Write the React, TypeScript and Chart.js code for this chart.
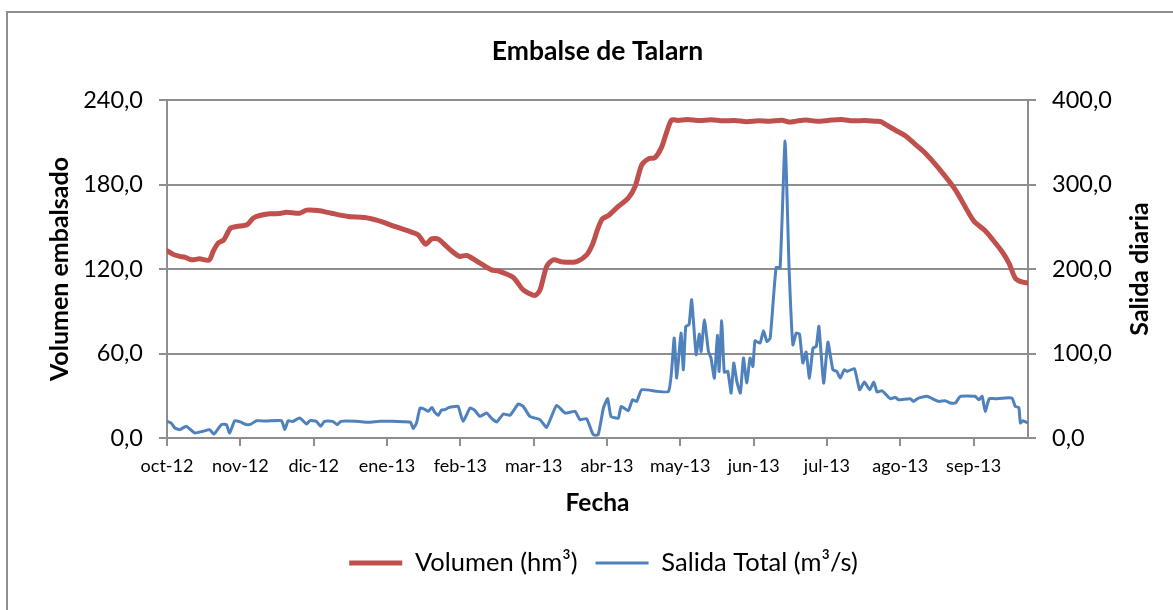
import React, { useEffect, useRef } from "react";
import { Chart, registerables } from "chart.js";

Chart.register(...registerables);

// ---- Texts ----
const chartTitle = "Embalse de Talarn";
const xAxisTitle = "Fecha";
const leftAxisTitle = "Volumen embalsado";
const rightAxisTitle = "Salida diaria";
const volumeLabel = "Volumen (hm³)";
const outflowLabel = "Salida Total (m³/s)";

// ---- X axis (days since 1 Oct 2012), tick every 31 days ----
const monthTickDays = [0, 31, 62, 93, 124, 155, 186, 217, 248, 279, 310, 341];
const monthTickLabels = ["oct-12", "nov-12", "dic-12", "ene-13", "feb-13", "mar-13", "abr-13", "may-13", "jun-13", "jul-13", "ago-13", "sep-13"];

// ---- Volumen (hm³), left axis ----
const volumeDays = [0, 2.5, 5.4, 7.5, 10.3, 13.8, 17.8, 19.5, 21.6, 24, 26.8, 29.4, 33.8, 36.4, 39.2, 43.4, 47.7, 50.5, 56.1, 59, 63.9, 69.5, 76.6, 83.6, 90.7, 96.3, 103.4, 106.2, 109.3, 111.9, 114.7, 118.2, 121.7, 123.8, 126.7, 132.3, 137.2, 140, 146.4, 150.6, 155.6, 157.7, 160.5, 163.3, 167.5, 173.2, 177.4, 180, 182, 184, 186.6, 190.8, 195, 197.9, 200.7, 203.5, 206.3, 209.2, 211.3, 213.4, 216, 220, 225, 230, 235, 240, 245, 250, 255, 260, 263, 266, 270, 275, 280, 285, 290, 295, 300, 302, 303.6, 308, 312.1, 316, 320.6, 326.2, 333.3, 341, 345.9, 349, 353, 356, 358.6, 361, 364];
const volumeValues = [133, 130.5, 129, 128.4, 126.5, 127.2, 126.3, 132.4, 138.4, 140.7, 149, 150.2, 151.4, 156.1, 158, 159.2, 159.4, 160.3, 159.6, 161.8, 161.5, 159.6, 157.3, 156.6, 153.7, 150.2, 146.2, 144.3, 137.6, 141.4, 141.2, 136, 131, 128.9, 129.6, 124.2, 119.4, 118.7, 114, 105.2, 101.2, 105.2, 121.8, 126.5, 124.9, 125.3, 130, 138, 148, 155.5, 158, 164.4, 170.3, 178.6, 193.9, 198.2, 199.1, 206.9, 217.6, 225.9, 225.5, 226.2, 225.4, 226, 225.2, 225.5, 224.6, 225.2, 224.9, 225.6, 224.3, 225, 225.8, 224.9, 225.6, 226.1, 225.2, 225.5, 224.9, 224.5, 222.8, 218.5, 214.7, 209, 202.2, 191.6, 176.2, 154.2, 147.1, 141, 132.4, 124, 113.5, 111, 110];

// ---- Salida Total (m³/s), right axis ----
const outflowDays = [0, 1.8, 3.3, 5.4, 8.2, 11.7, 15.2, 18, 19.8, 23, 25.1, 26.5, 28.6, 31, 33.6, 35.5, 37.8, 42, 48.4, 49.8, 51.2, 53, 56.1, 59, 60.4, 63, 65, 66.5, 70, 72, 73.5, 80, 85, 90, 95, 100, 103, 104.1, 105.5, 107, 109, 110.4, 112, 113.3, 114.7, 116, 117.5, 119, 121.7, 123.1, 125.2, 128.1, 130, 132.3, 135.1, 137, 139.4, 142.2, 145, 148.5, 150.6, 153.4, 157.7, 160.5, 164.7, 168.3, 172.5, 174.6, 177.4, 180.2, 182.3, 184.5, 186.3, 187.7, 190.8, 192, 195, 196.8, 198.6, 200.7, 212, 214.4, 215.5, 217.3, 218.3, 219.3, 220.7, 221.8, 223.7, 225, 225.8, 227.2, 228.9, 230, 231.4, 232.7, 233.4, 234.5, 235.6, 237.1, 238.5, 239.6, 240.9, 242.4, 243.7, 245.1, 246.5, 247.7, 248.6, 250.7, 252.2, 253.6, 255, 257.5, 259.2, 261.3, 263, 264.6, 266, 267.4, 268.8, 270.2, 271.6, 273.1, 274.5, 275.6, 277.6, 279.4, 281.5, 283.2, 284.6, 286.3, 287.5, 290.6, 292.8, 294.8, 297.1, 298.8, 300.2, 302.3, 305.8, 307.9, 309.3, 314.2, 315.6, 317.7, 321.3, 326.2, 329, 331.1, 333.3, 335.4, 341.7, 343.2, 344.6, 345.9, 347.6, 350.1, 357.2, 358.6, 360.1, 360.8, 361.8, 364];
const outflowValues = [19.7, 17.7, 11.8, 9.9, 13.8, 5.9, 7.9, 9.9, 4.7, 15.8, 15.8, 5.9, 20.5, 19, 15.8, 16.5, 20.5, 20, 20.5, 9.9, 20.5, 19.5, 23.6, 16.5, 20.5, 20, 13.8, 19.7, 19.7, 15.8, 19.7, 19.7, 18.5, 19.7, 19.7, 19.2, 18.5, 11, 18, 35.5, 34, 31.5, 36, 30, 26.8, 33, 33.5, 36, 37.4, 37.4, 19.7, 35.5, 33, 25.6, 29.6, 24, 18.9, 28.4, 26.8, 40.2, 37.4, 25.6, 21.7, 12.6, 38.6, 29.6, 31.5, 21.7, 22.9, 3.9, 3.9, 35.5, 46.5, 25.6, 23.6, 37.4, 32.3, 45.3, 43.3, 57.1, 55.2, 118.2, 70.9, 124.1, 80.8, 132, 134, 163.5, 98.5, 122.9, 102.4, 139.9, 102.4, 94.6, 70.9, 121.4, 78.8, 138.7, 78, 78.8, 53.2, 88.7, 67, 53.2, 94.6, 65, 94.6, 84.7, 115, 112.3, 126.9, 114.3, 118.2, 201.7, 201.7, 351.4, 200.9, 110.3, 124.1, 122.9, 88.7, 101.7, 70.9, 106.4, 108.4, 132, 65, 113.5, 80.8, 78.8, 70.9, 80.8, 78.8, 82, 57.1, 66.2, 57.1, 66.2, 54.4, 55.9, 46.5, 48.1, 45.3, 46.5, 43.3, 47.3, 49.3, 43.3, 44.1, 41.4, 41.4, 49.3, 49.3, 45.3, 49.3, 31.5, 46.5, 46.5, 47.3, 37.4, 36.2, 17.7, 20.5, 17.7];

// ---- Axis ranges ----
const leftAxisMax = 240;
const leftAxisStep = 60;
const rightAxisMax = 400;
const rightAxisStep = 100;

const FONT = "Lato";
const GRID_COLOR = "#8e8e8e";
const RED = "#C0504D";
const BLUE = "#4F81BD";

const fmt = (v: number) => Number(v).toFixed(1).replace(".", ",");

const layoutPlugin = {
  id: "layoutTweaks",
  afterLayout(chart: any) {
    const t = chart.titleBlock;
    if (t) {
      t.left += 11;
      t.right += 11;
    }
    const l = chart.legend;
    if (l) {
      l.left += 17;
      l.right += 17;
    }
  },
  afterDraw(chart: any) {
    const s = chart.scales.y1;
    const ca = chart.chartArea;
    const ctx = chart.ctx;
    ctx.save();
    ctx.translate(s.right - 33, (ca.top + ca.bottom) / 2);
    ctx.rotate(-Math.PI / 2);
    ctx.font = `bold 25px ${FONT}`;
    ctx.fillStyle = "#000";
    ctx.textAlign = "center";
    ctx.textBaseline = "middle";
    ctx.fillText(rightAxisTitle, 0, 0);
    ctx.restore();
  },
};

export default function App() {
  const canvasRef = useRef<HTMLCanvasElement | null>(null);

  useEffect(() => {
    if (!canvasRef.current) return;
    const volumeData = volumeDays.map((d, i) => ({ x: d, y: volumeValues[i] }));
    const outflowData = outflowDays.map((d, i) => ({ x: d, y: outflowValues[i] }));

    const chart = new Chart(canvasRef.current, {
      type: "line",
      data: {
        datasets: [
          {
            label: volumeLabel,
            data: volumeData,
            yAxisID: "y",
            borderColor: RED,
            backgroundColor: RED,
            borderWidth: 5,
            pointRadius: 0,
            tension: 0.25,
            borderJoinStyle: "round",
            borderCapStyle: "round",
            fill: false,
          },
          {
            label: outflowLabel,
            data: outflowData,
            yAxisID: "y1",
            borderColor: BLUE,
            backgroundColor: BLUE,
            borderWidth: 3,
            pointRadius: 0,
            tension: 0.15,
            borderJoinStyle: "round",
            fill: false,
          },
        ],
      },
      options: {
        responsive: false,
        maintainAspectRatio: false,
        animation: false,
        devicePixelRatio: 1,
        events: [],
        layout: { padding: { left: 0, right: 0, top: 0, bottom: 24.25 } },
        plugins: {
          tooltip: { enabled: false },
          title: {
            display: true,
            text: chartTitle,
            color: "#000",
            font: { family: FONT, size: 26.5, weight: "bold", lineHeight: 1.2 },
            padding: { top: 36, bottom: 32.2 },
          },
          legend: {
            display: true,
            position: "bottom",
            labels: {
              color: "#000",
              font: { family: FONT, size: 25.5 },
              usePointStyle: true,
              pointStyle: "line",
              pointStyleWidth: 53,
              padding: 18,
            },
          },
        },
        scales: {
          x: {
            type: "linear",
            min: 0,
            max: 364,
            afterBuildTicks: (scale: any) => {
              scale.ticks = monthTickDays.map((v) => ({ value: v }));
            },
            afterFit: (scale: any) => {
              scale.height = 94.25;
            },
            ticks: {
              autoSkip: false,
              maxRotation: 0,
              minRotation: 0,
              padding: 9,
              color: "#000",
              font: { family: FONT, size: 18 },
              callback: (value: any) => {
                const i = monthTickDays.indexOf(Number(value));
                return i >= 0 ? monthTickLabels[i] : "";
              },
            },
            grid: {
              drawOnChartArea: false,
              drawTicks: true,
              tickLength: 8,
              color: GRID_COLOR,
              lineWidth: 2,
            },
            border: { display: true, color: GRID_COLOR, width: 2 },
            title: {
              display: true,
              text: xAxisTitle,
              color: "#000",
              font: { family: FONT, size: 24.5, weight: "bold", lineHeight: 1.2 },
              padding: { top: 0, bottom: 14 },
            },
          },
          y: {
            type: "linear",
            position: "left",
            min: 0,
            max: leftAxisMax,
            afterFit: (scale: any) => {
              scale.width = 167;
            },
            ticks: {
              stepSize: leftAxisStep,
              padding: 16,
              color: "#000",
              font: { family: FONT, size: 23.5 },
              callback: (v: any) => fmt(v),
            },
            grid: {
              drawOnChartArea: true,
              drawTicks: true,
              tickLength: 8,
              color: GRID_COLOR,
              lineWidth: 2,
            },
            border: { display: true, color: GRID_COLOR, width: 2 },
            title: {
              display: true,
              text: leftAxisTitle,
              color: "#000",
              font: { family: FONT, size: 25, weight: "bold", lineHeight: 1.2 },
              padding: { top: 45, bottom: 0 },
            },
          },
          y1: {
            type: "linear",
            position: "right",
            min: 0,
            max: rightAxisMax,
            afterFit: (scale: any) => {
              scale.width = 145;
            },
            ticks: {
              stepSize: rightAxisStep,
              padding: 16,
              color: "#000",
              font: { family: FONT, size: 23.5 },
              callback: (v: any) => fmt(v),
            },
            grid: {
              drawOnChartArea: false,
              drawTicks: true,
              tickLength: 8,
              color: GRID_COLOR,
              lineWidth: 2,
            },
            border: { display: true, color: GRID_COLOR, width: 2 },
          },
        },
      },
      plugins: [layoutPlugin],
    });

    return () => {
      chart.destroy();
    };
  }, []);

  return (
    <div
      style={{
        position: "fixed",
        left: 0,
        top: 0,
        width: 1173,
        height: 610,
        overflow: "hidden",
        background: "#fff",
      }}
    >
      <div
        style={{
          position: "absolute",
          left: 6,
          top: 11,
          width: 1250,
          height: 700,
          border: "2px solid #8e8e8e",
          boxSizing: "border-box",
        }}
      />
      <canvas
        ref={canvasRef}
        width={1173}
        height={610}
        style={{ position: "absolute", left: 0, top: 0, width: 1173, height: 610 }}
      />
    </div>
  );
}
